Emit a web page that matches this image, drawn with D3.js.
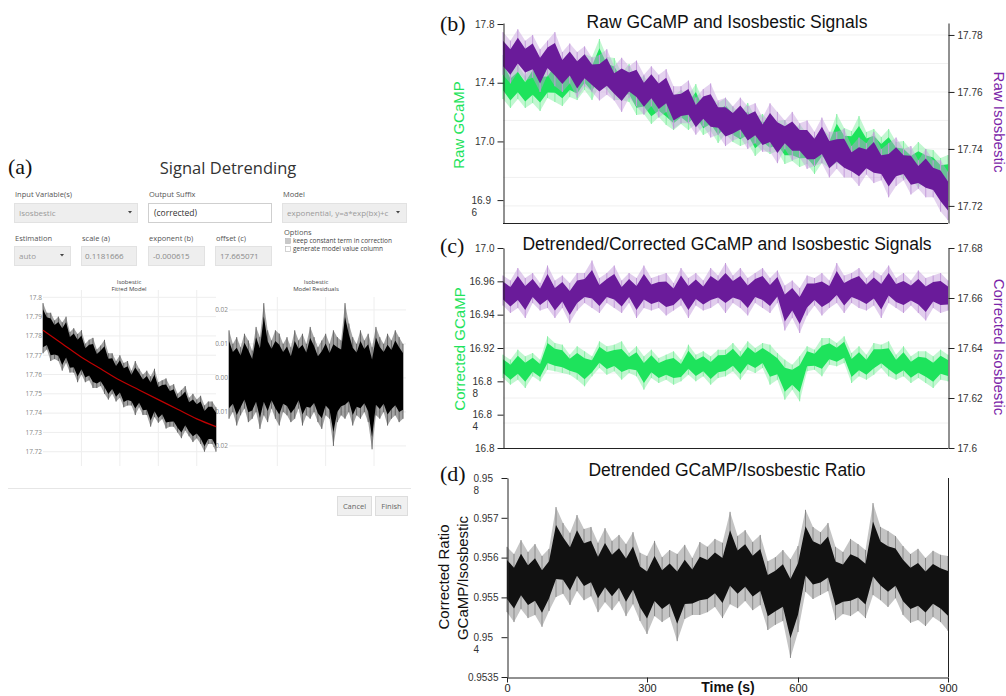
<!DOCTYPE html>
<html>
<head>
<meta charset="utf-8">
<script src="https://cdn.jsdelivr.net/npm/d3@7"></script>
<style>
  body { margin: 0; background: #fff; }
  svg { display: block; }
</style>
</head>
<body>
<svg id="chart" width="1006" height="696"></svg>
<script>
// ---------------- data ----------------

// (a) fitted exponential model and isosbestic trace (sampled every 20 s)
const fitTimes = [0, 100, 200, 300, 400, 500, 600, 700, 800, 900];
const fitVals = [17.783, 17.776, 17.769, 17.763, 17.757, 17.752, 17.747, 17.742, 17.737, 17.733];
const isoTimes = d3.range(0, 901, 20);
const isoHi = [17.797,17.792,17.792,17.788,17.790,17.787,17.790,17.782,17.784,17.781,
  17.783,17.776,17.778,17.779,17.773,17.775,17.778,17.771,17.771,17.767,
  17.770,17.766,17.767,17.762,17.767,17.763,17.760,17.762,17.759,17.763,
  17.756,17.757,17.758,17.754,17.755,17.750,17.752,17.754,17.748,17.750,
  17.747,17.749,17.744,17.746,17.746,17.743];
const isoLo = [17.771,17.773,17.767,17.768,17.767,17.762,17.766,17.761,17.761,17.756,
  17.760,17.756,17.757,17.753,17.753,17.754,17.750,17.747,17.750,17.746,
  17.748,17.743,17.744,17.744,17.739,17.743,17.739,17.739,17.733,17.738,
  17.735,17.737,17.732,17.733,17.733,17.730,17.727,17.731,17.728,17.725,
  17.727,17.724,17.720,17.724,17.724,17.720];
const residHi = [0.014,0.010,0.012,0.009,0.013,0.011,0.008,0.015,0.012,0.022,
  0.014,0.011,0.014,0.013,0.010,0.012,0.009,0.014,0.011,0.013,
  0.010,0.015,0.012,0.009,0.011,0.013,0.010,0.014,0.012,0.011,
  0.022,0.016,0.012,0.010,0.014,0.011,0.013,0.009,0.015,0.012,
  0.010,0.013,0.011,0.014,0.012,0.010];
const residLo = [-0.012,-0.010,-0.014,-0.011,-0.009,-0.013,-0.012,-0.010,-0.015,-0.011,
  -0.013,-0.009,-0.012,-0.014,-0.010,-0.011,-0.013,-0.012,-0.009,-0.014,
  -0.011,-0.012,-0.010,-0.013,-0.015,-0.011,-0.012,-0.020,-0.013,-0.011,
  -0.012,-0.010,-0.014,-0.011,-0.012,-0.010,-0.013,-0.021,-0.011,-0.012,
  -0.010,-0.014,-0.012,-0.011,-0.013,-0.012];
const fitTicks = [17.8, 17.79, 17.78, 17.77, 17.76, 17.75, 17.74, 17.73, 17.72];
const fitLabels = ['17.8', '17.79', '17.78', '17.77', '17.76', '17.75', '17.74', '17.73', '17.72'];
const residTicks = [0.02, 0.01, 0, -0.01, -0.02];
const residLabels = ['0.02', '0.01', '0.00', '-0.01', '-0.02'];

// (b)-(d) signals, sampled every 15 s (upper / lower extent of the noisy trace)
const sigTimes = d3.range(0, 901, 15);

const rawGcampHi = [17.589,17.480,17.521,17.446,17.541,17.500,17.480,17.582,17.507,17.541,
  17.507,17.596,17.575,17.698,17.575,17.568,17.466,17.527,17.425,17.446,
  17.378,17.378,17.405,17.309,17.350,17.316,17.391,17.275,17.309,17.262,
  17.296,17.234,17.194,17.262,17.166,17.187,17.125,17.139,17.146,17.064,
  17.119,17.050,17.023,17.085,17.044,17.187,17.091,17.071,17.173,17.064,
  17.085,17.030,17.085,16.996,17.003,16.941,16.996,16.948,16.941,16.887,
  16.907];
const rawGcampLo = [17.289,17.228,17.289,17.228,17.262,17.207,17.296,17.269,17.241,17.303,
  17.282,17.350,17.282,17.384,17.350,17.282,17.282,17.269,17.180,17.187,
  17.119,17.166,17.112,17.078,17.119,17.078,17.119,17.044,17.071,16.989,
  17.050,16.996,16.969,16.989,16.901,16.948,16.914,16.935,16.846,16.866,
  16.826,16.846,16.778,16.853,16.819,16.853,16.826,16.894,16.832,16.846,
  16.853,16.792,16.798,16.805,16.737,16.751,16.683,16.737,16.689,16.642,
  16.594];
const rawIsoHi = [17.781,17.778,17.782,17.778,17.780,17.775,17.778,17.781,17.774,17.777,
  17.774,17.776,17.772,17.773,17.775,17.769,17.772,17.769,17.771,17.766,
  17.769,17.766,17.768,17.762,17.762,17.764,17.758,17.761,17.763,17.757,
  17.758,17.755,17.758,17.755,17.756,17.751,17.756,17.753,17.750,17.753,
  17.749,17.750,17.746,17.751,17.746,17.746,17.747,17.741,17.744,17.742,
  17.746,17.740,17.742,17.744,17.740,17.741,17.736,17.740,17.736,17.736,
  17.732];
const rawIsoLo = [17.766,17.763,17.767,17.764,17.765,17.760,17.766,17.762,17.760,17.763,
  17.758,17.762,17.760,17.757,17.759,17.757,17.753,17.758,17.755,17.752,
  17.755,17.751,17.753,17.747,17.749,17.749,17.745,17.748,17.744,17.745,
  17.741,17.743,17.744,17.740,17.742,17.739,17.739,17.735,17.740,17.736,
  17.737,17.733,17.734,17.735,17.730,17.733,17.730,17.730,17.727,17.731,
  17.728,17.729,17.723,17.727,17.729,17.724,17.726,17.723,17.723,17.718,
  17.715];
const rawGcampTicks = [17.8, 17.4, 17.0, 16.6];
const rawGcampLabels = ['17.8', '17.4', '17.0', '16.96'];
const rawIsoTicks = [17.78, 17.76, 17.74, 17.72];
const rawIsoLabels = ['17.78', '17.76', '17.74', '17.72'];

const corGcampHi = [16.916,16.913,16.919,16.915,16.917,16.913,16.927,16.923,16.922,16.916,
  16.921,16.918,16.915,16.924,16.921,16.922,16.924,16.917,16.921,16.915,
  16.919,16.914,16.916,16.918,16.913,16.922,16.916,16.918,16.915,16.919,
  16.919,16.923,16.918,16.924,16.920,16.923,16.922,16.917,16.913,16.910,
  16.915,16.921,16.919,16.926,16.926,16.923,16.927,16.917,16.921,16.916,
  16.923,16.922,16.924,16.916,16.921,16.915,16.918,16.918,16.915,16.919,
  16.916];
const corGcampLo = [16.902,16.898,16.901,16.896,16.903,16.900,16.907,16.906,16.905,16.904,
  16.901,16.897,16.903,16.908,16.904,16.906,16.901,16.905,16.903,16.895,
  16.902,16.899,16.901,16.898,16.900,16.904,16.900,16.903,16.898,16.902,
  16.903,16.906,16.901,16.907,16.905,16.908,16.898,16.901,16.889,16.895,
  16.888,16.906,16.907,16.903,16.910,16.909,16.911,16.899,16.903,16.901,
  16.904,16.908,16.903,16.901,16.903,16.899,16.902,16.899,16.896,16.901,
  16.900];
const corIsoHi = [17.669,17.667,17.672,17.668,17.670,17.666,17.673,17.667,17.669,17.666,
  17.670,17.670,17.675,17.668,17.670,17.673,17.667,17.670,17.668,17.673,
  17.668,17.669,17.670,17.666,17.672,17.668,17.670,17.667,17.672,17.669,
  17.674,17.669,17.672,17.668,17.670,17.672,17.668,17.671,17.665,17.667,
  17.664,17.669,17.668,17.670,17.667,17.674,17.669,17.670,17.672,17.668,
  17.671,17.669,17.673,17.668,17.670,17.667,17.671,17.668,17.669,17.670,
  17.667];
const corIsoLo = [17.657,17.654,17.656,17.652,17.658,17.655,17.656,17.652,17.656,17.650,
  17.655,17.658,17.656,17.654,17.658,17.656,17.654,17.658,17.652,17.656,
  17.655,17.656,17.653,17.655,17.657,17.652,17.657,17.655,17.656,17.658,
  17.654,17.658,17.656,17.653,17.658,17.656,17.654,17.658,17.647,17.652,
  17.646,17.653,17.657,17.653,17.656,17.658,17.654,17.658,17.656,17.655,
  17.657,17.652,17.658,17.656,17.654,17.657,17.654,17.651,17.656,17.654,
  17.655];
const corGcampTicks = [16.98, 16.96, 16.94, 16.92, 16.90, 16.88, 16.86];
const corGcampLabels = ['17.0', '16.96', '16.94', '16.92', '16.88', '16.84', '16.8'];
const corIsoTicks = [17.68, 17.66, 17.64, 17.62, 17.6];
const corIsoLabels = ['17.68', '17.66', '17.64', '17.62', '17.6'];

const ratioHi = [0.95627,0.95609,0.95644,0.95614,0.95634,0.95604,0.95622,0.95727,0.95687,0.95662,
  0.95707,0.95672,0.95677,0.95637,0.95674,0.95642,0.95657,0.95634,0.95664,0.95612,
  0.95604,0.95642,0.95601,0.95619,0.95609,0.95632,0.95599,0.95639,0.95627,0.95647,
  0.95637,0.95715,0.95654,0.95669,0.95639,0.95657,0.95591,0.95601,0.95619,0.95596,
  0.95629,0.95720,0.95677,0.95664,0.95687,0.95627,0.95614,0.95647,0.95634,0.95619,
  0.95737,0.95677,0.95667,0.95654,0.95629,0.95609,0.95622,0.95599,0.95617,0.95607,
  0.95604];
const ratioLo = [0.95463,0.95438,0.95471,0.95448,0.95456,0.95426,0.95466,0.95501,0.95509,0.95481,
  0.95516,0.95493,0.95503,0.95463,0.95488,0.95468,0.95491,0.95453,0.95483,0.95441,
  0.95408,0.95453,0.95438,0.95451,0.95390,0.95446,0.95456,0.95456,0.95463,0.95476,
  0.95448,0.95483,0.95473,0.95491,0.95468,0.95481,0.95418,0.95431,0.95441,0.95348,
  0.95413,0.95514,0.95496,0.95506,0.95516,0.95443,0.95458,0.95453,0.95466,0.95448,
  0.95506,0.95493,0.95476,0.95498,0.95456,0.95436,0.95443,0.95428,0.95451,0.95438,
  0.95416];
const ratioTicks = [0.958, 0.957, 0.956, 0.955, 0.954, 0.953];
const ratioLabels = ['0.958', '0.957', '0.956', '0.955', '0.954', '0.9535'];
const timeTicks = [0, 300, 600, 900];

// ---------------- drawing ----------------
const GREEN = '#1ee35c', GREEN_LIGHT = '#86f0a4';
const PURPLE = '#6a1b9a', PURPLE_LIGHT = '#c39bdb', PURPLE_TEXT = '#7b25a8';
const SANS = '"Liberation Sans", Arial, sans-serif';
const SERIF = '"Liberation Serif", "Times New Roman", serif';
const OPEN = '"Open Sans", sans-serif';

const svg = d3.select('#chart');
svg.append('rect').attr('width', 1006).attr('height', 696).attr('fill', '#fff');

// noisy trace: faint envelope, thin spikes to the extremes, dense core
function band(g, x, y, times, lo, hi, fringe, core, inset, fringeOpacity) {
  const outer = d3.area()
    .x((d, i) => x(times[i]))
    .y0((d, i) => y(lo[i]))
    .y1((d, i) => y(hi[i]));
  const inner = d3.area()
    .x((d, i) => x(times[i]))
    .y0((d, i) => y(lo[i] + (hi[i] - lo[i]) * inset))
    .y1((d, i) => y(hi[i] - (hi[i] - lo[i]) * inset));
  g.append('path').datum(times).attr('d', outer)
    .attr('fill', fringe).attr('fill-opacity', fringeOpacity);
  g.append('g').selectAll('line').data(times).join('line')
    .attr('x1', d => x(d)).attr('x2', d => x(d))
    .attr('y1', (d, i) => y(lo[i])).attr('y2', (d, i) => y(hi[i]))
    .attr('stroke', fringe).attr('stroke-width', 1);
  g.append('path').datum(times).attr('d', inner).attr('fill', core);
}

// y axis with the odd wrapped labels of the original figure
function yAxis(g, scale, ticks, labels, side, wrapIdx, wrapX) {
  const axis = (side === 'left' ? d3.axisLeft(scale) : d3.axisRight(scale))
    .tickValues(ticks)
    .tickFormat((d, i) => labels[i])
    .tickSizeInner(6).tickSizeOuter(0).tickPadding(3);
  g.call(axis).attr('font-family', SANS).attr('font-size', 10);
  g.select('.domain').attr('stroke', '#222');
  g.selectAll('.tick line').attr('stroke', '#222');
  g.selectAll('.tick text').attr('fill', '#333');
  g.selectAll('.tick text').each(function (d, i) {
    if (!wrapIdx.includes(i)) return;
    const t = d3.select(this);
    const s = labels[i];
    t.text(null).attr('text-anchor', 'start');
    t.append('tspan').attr('x', wrapX).text(s.slice(0, 4));
    t.append('tspan').attr('x', wrapX).attr('dy', '1.2em').text(s.slice(4));
  });
}

function title(txt, x, y) {
  svg.append('text').attr('x', x).attr('y', y).attr('text-anchor', 'middle')
    .attr('font-family', SANS).attr('font-size', 17.5).attr('fill', '#111').text(txt);
}

function panelLetter(txt, x, y) {
  svg.append('text').attr('x', x).attr('y', y)
    .attr('font-family', SERIF).attr('font-size', 22).attr('fill', '#111').text(txt);
}

function vLabel(txt, x, y, angle, color) {
  svg.append('text').attr('transform', `translate(${x},${y}) rotate(${angle})`)
    .attr('text-anchor', 'middle').attr('dominant-baseline', 'central')
    .attr('font-family', SANS).attr('font-size', 15).attr('fill', color).text(txt);
}

// ---------- panel (a): detrending dialog ----------
const ui = svg.append('g').attr('font-family', OPEN);

function label(x, y, txt, size, color) {
  return ui.append('text').attr('x', x).attr('y', y)
    .attr('font-size', size).attr('fill', color).text(txt);
}
function box(x, y, w, h, disabled) {
  ui.append('rect').attr('x', x + 0.5).attr('y', y + 0.5).attr('width', w).attr('height', h)
    .attr('fill', disabled ? '#eeeeee' : '#fff')
    .attr('stroke', disabled ? '#e2e2e2' : '#cfcfcf');
}
function caret(x, y) {
  ui.append('path').attr('d', `M${x - 2},${y - 1}L${x + 2},${y - 1}L${x},${y + 1.6}Z`).attr('fill', '#444');
}

panelLetter('(a)', 8, 174);
label(228, 174, 'Signal Detrending', 16.5, '#333').attr('text-anchor', 'middle');

label(15, 197, 'Input Variable(s)', 7.5, '#555');
label(149, 197, 'Output Suffix', 7.5, '#555');
label(283, 197, 'Model', 7.5, '#555');
box(14, 203, 123, 19, true);
label(19, 215.5, 'Isosbestic', 8, '#9a9a9a');
caret(130, 212);
box(148, 203, 123, 19, false);
label(154, 215.5, '(corrected)', 8.5, '#333');
box(282, 203, 124, 19, true);
label(287, 215.5, 'exponential, y=a*exp(bx)+c', 8, '#9a9a9a');
caret(398, 212);

label(15, 240.5, 'Estimation', 7.5, '#555');
label(82, 240.5, 'scale (a)', 7.5, '#555');
label(149, 240.5, 'exponent (b)', 7.5, '#555');
label(216, 240.5, 'offset (c)', 7.5, '#555');
label(284, 234.5, 'Options', 7.5, '#555');

box(14, 246, 56, 19, true);
label(19, 258.5, 'auto', 8, '#9a9a9a');
caret(62, 255);
box(81, 246, 55, 19, true);
ui.append('clipPath').attr('id', 'scaleClip').append('rect')
  .attr('x', 81).attr('y', 246).attr('width', 53).attr('height', 19);
label(85, 258.5, '0.1181666', 8, '#8a8a8a').attr('clip-path', 'url(#scaleClip)');
box(148, 246, 56, 19, true);
label(153, 258.5, '-0.000615', 8, '#8a8a8a');
box(215, 246, 56, 19, true);
label(220, 258.5, '17.665071', 8, '#8a8a8a');

ui.append('rect').attr('x', 285.5).attr('y', 238.5).attr('width', 5).attr('height', 5)
  .attr('fill', '#c8c8c8').attr('stroke', '#b5b5b5').attr('stroke-width', 0.6);
label(293, 243.3, 'keep constant term in correction', 6.5, '#444');
ui.append('rect').attr('x', 285.5).attr('y', 246.5).attr('width', 5).attr('height', 5)
  .attr('fill', '#fff').attr('stroke', '#b5b5b5').attr('stroke-width', 0.6);
label(293, 251.3, 'generate model value column', 6.5, '#444');

label(129, 284, 'Isobestic', 6, '#444').attr('text-anchor', 'middle');
label(129, 291, 'Fitted Model', 6, '#444').attr('text-anchor', 'middle');
label(316, 284, 'Isobestic', 6, '#444').attr('text-anchor', 'middle');
label(316, 291, 'Model Residuals', 6, '#444').attr('text-anchor', 'middle');

// residual plot
const xRes = d3.scaleLinear().domain([0, 900]).range([229, 403]);
const yRes = d3.scaleLinear().domain([-0.0259, 0.0238]).range([466, 297]);
const gRes = ui.append('g');
gRes.selectAll('.hg').data(residTicks).join('line')
  .attr('x1', 229).attr('x2', 406).attr('y1', d => yRes(d)).attr('y2', d => yRes(d))
  .attr('stroke', '#eeeeee');
gRes.selectAll('.vg').data([250, 500, 750]).join('line')
  .attr('x1', d => xRes(d)).attr('x2', d => xRes(d)).attr('y1', 297).attr('y2', 466)
  .attr('stroke', '#eeeeee');
gRes.selectAll('.lab').data(residTicks).join('text')
  .attr('x', 228).attr('y', d => yRes(d) + 2.3).attr('text-anchor', 'end')
  .attr('font-size', 6.5).attr('fill', '#888').text((d, i) => residLabels[i]);
band(gRes, xRes, yRes, isoTimes, residLo, residHi, '#666', '#000', 0.12, 0.6);

// fitted-model plot
const xFit = d3.scaleLinear().domain([0, 900]).range([43, 216]);
const yFit = d3.scaleLinear().domain([17.7126, 17.8038]).range([466, 290]);
const gFit = ui.append('g');
gFit.selectAll('.hg').data(fitTicks).join('line')
  .attr('x1', 43).attr('x2', 216).attr('y1', d => yFit(d)).attr('y2', d => yFit(d))
  .attr('stroke', '#eeeeee');
gFit.selectAll('.vg').data([200, 400, 600, 800]).join('line')
  .attr('x1', d => xFit(d)).attr('x2', d => xFit(d)).attr('y1', 290).attr('y2', 466)
  .attr('stroke', '#eeeeee');
gFit.selectAll('.lab').data(fitTicks).join('text')
  .attr('x', 42).attr('y', d => yFit(d) + 2.3).attr('text-anchor', 'end')
  .attr('font-size', 6.5).attr('fill', '#888').text((d, i) => fitLabels[i]);
band(gFit, xFit, yFit, isoTimes, isoLo, isoHi, '#666', '#000', 0.12, 0.6);
gFit.append('path').datum(fitVals)
  .attr('d', d3.line().x((d, i) => xFit(fitTimes[i])).y(d => yFit(d)).curve(d3.curveMonotoneX))
  .attr('fill', 'none').attr('stroke', '#c00000').attr('stroke-width', 1.2);

// dialog footer
ui.append('line').attr('x1', 8).attr('x2', 411).attr('y1', 488.5).attr('y2', 488.5).attr('stroke', '#e6e6e6');
ui.append('rect').attr('x', 337.5).attr('y', 496.5).attr('width', 34).attr('height', 19)
  .attr('fill', '#f0f0f0').attr('stroke', '#dddddd');
label(354.5, 509, 'Cancel', 7.5, '#666').attr('text-anchor', 'middle');
ui.append('rect').attr('x', 375.5).attr('y', 496.5).attr('width', 32).attr('height', 19)
  .attr('fill', '#f0f0f0').attr('stroke', '#dddddd');
label(391.5, 509, 'Finish', 7.5, '#666').attr('text-anchor', 'middle');

// ---------- panel (b): raw signals ----------
const xB = d3.scaleLinear().domain([0, 900]).range([503, 948]);
const yRawG = d3.scaleLinear().domain([16.444, 17.807]).range([223, 23]);
const yRawI = d3.scaleLinear().domain([17.714, 17.7842]).range([223, 23]);
const gB = svg.append('g');
gB.selectAll('.grid').data([17.78, 17.77, 17.76, 17.75, 17.74, 17.73, 17.72]).join('line')
  .attr('x1', 503).attr('x2', 948).attr('y1', d => yRawI(d)).attr('y2', d => yRawI(d))
  .attr('stroke', '#f0f0f0');
band(gB, xB, yRawG, sigTimes, rawGcampLo, rawGcampHi, GREEN_LIGHT, GREEN, 0.2, 0.5);
band(gB, xB, yRawI, sigTimes, rawIsoLo, rawIsoHi, PURPLE_LIGHT, PURPLE, 0.2, 0.45);
gB.append('line').attr('x1', 503).attr('x2', 948).attr('y1', 223.5).attr('y2', 223.5).attr('stroke', '#222');
yAxis(svg.append('g').attr('transform', 'translate(503.5,0)'), yRawG, rawGcampTicks, rawGcampLabels, 'left', [3], -32);
yAxis(svg.append('g').attr('transform', 'translate(948.5,0)'), yRawI, rawIsoTicks, rawIsoLabels, 'right', [], 0);
panelLetter('(b)', 440, 31);
title('Raw GCaMP and Isosbestic Signals', 727, 28);
vLabel('Raw GCaMP', 458, 125, -90, GREEN);
vLabel('Raw Isosbestic', 999, 122, 90, PURPLE_TEXT);

// ---------- panel (c): detrended signals ----------
const yCorG = d3.scaleLinear().domain([16.86, 16.98]).range([448, 248]);
const yCorI = d3.scaleLinear().domain([17.6, 17.68]).range([448, 248]);
const gC = svg.append('g');
gC.selectAll('.grid').data([17.67, 17.66, 17.65, 17.64, 17.63, 17.62, 17.61]).join('line')
  .attr('x1', 503).attr('x2', 948).attr('y1', d => yCorI(d)).attr('y2', d => yCorI(d))
  .attr('stroke', '#f0f0f0');
band(gC, xB, yCorG, sigTimes, corGcampLo, corGcampHi, GREEN_LIGHT, GREEN, 0.2, 0.5);
band(gC, xB, yCorI, sigTimes, corIsoLo, corIsoHi, PURPLE_LIGHT, PURPLE, 0.2, 0.5);
gC.append('line').attr('x1', 503).attr('x2', 948).attr('y1', 448.5).attr('y2', 448.5).attr('stroke', '#222');
yAxis(svg.append('g').attr('transform', 'translate(503.5,0)'), yCorG, corGcampTicks, corGcampLabels, 'left', [4, 5], -31);
yAxis(svg.append('g').attr('transform', 'translate(948.5,0)'), yCorI, corIsoTicks, corIsoLabels, 'right', [], 0);
panelLetter('(c)', 440, 253);
title('Detrended/Corrected GCaMP and Isosbestic Signals', 727, 250);
vLabel('Corrected GCaMP', 459, 349, -90, GREEN);
vLabel('Corrected Isosbestic', 999, 347, 90, PURPLE_TEXT);

// ---------- panel (d): ratio ----------
const xD = d3.scaleLinear().domain([0, 300, 600, 900]).range([507, 647, 798, 948]);
const yRatio = d3.scaleLinear().domain([0.953, 0.958]).range([677, 478]);
const gD = svg.append('g');
band(gD, xD, yRatio, sigTimes, ratioLo, ratioHi, '#8a8a8a', '#111', 0.2, 0.5);
gD.append('line').attr('x1', 948.5).attr('x2', 948.5).attr('y1', 478).attr('y2', 677).attr('stroke', '#222');
const xAxisD = svg.append('g').attr('transform', 'translate(0,677.5)')
  .call(d3.axisBottom(xD).tickValues(timeTicks).tickSizeInner(5).tickSizeOuter(0).tickPadding(2))
  .attr('font-family', SANS).attr('font-size', 11);
xAxisD.select('.domain').attr('stroke', '#222');
xAxisD.selectAll('.tick line').attr('stroke', '#222');
xAxisD.selectAll('.tick text').attr('fill', '#222');
yAxis(svg.append('g').attr('transform', 'translate(507.5,0)'), yRatio, ratioTicks, ratioLabels, 'left', [0, 4], -34);
panelLetter('(d)', 440, 481);
title('Detrended GCaMP/Isosbestic Ratio', 727, 476);
vLabel('Corrected Ratio', 443, 577, -90, '#111');
vLabel('GCaMP/Isosbestic', 462, 578, -90, '#111');
svg.append('text').attr('x', 728).attr('y', 692).attr('text-anchor', 'middle')
  .attr('font-family', SANS).attr('font-weight', 'bold').attr('font-size', 14)
  .attr('fill', '#111').text('Time (s)');
</script>
</body>
</html>
